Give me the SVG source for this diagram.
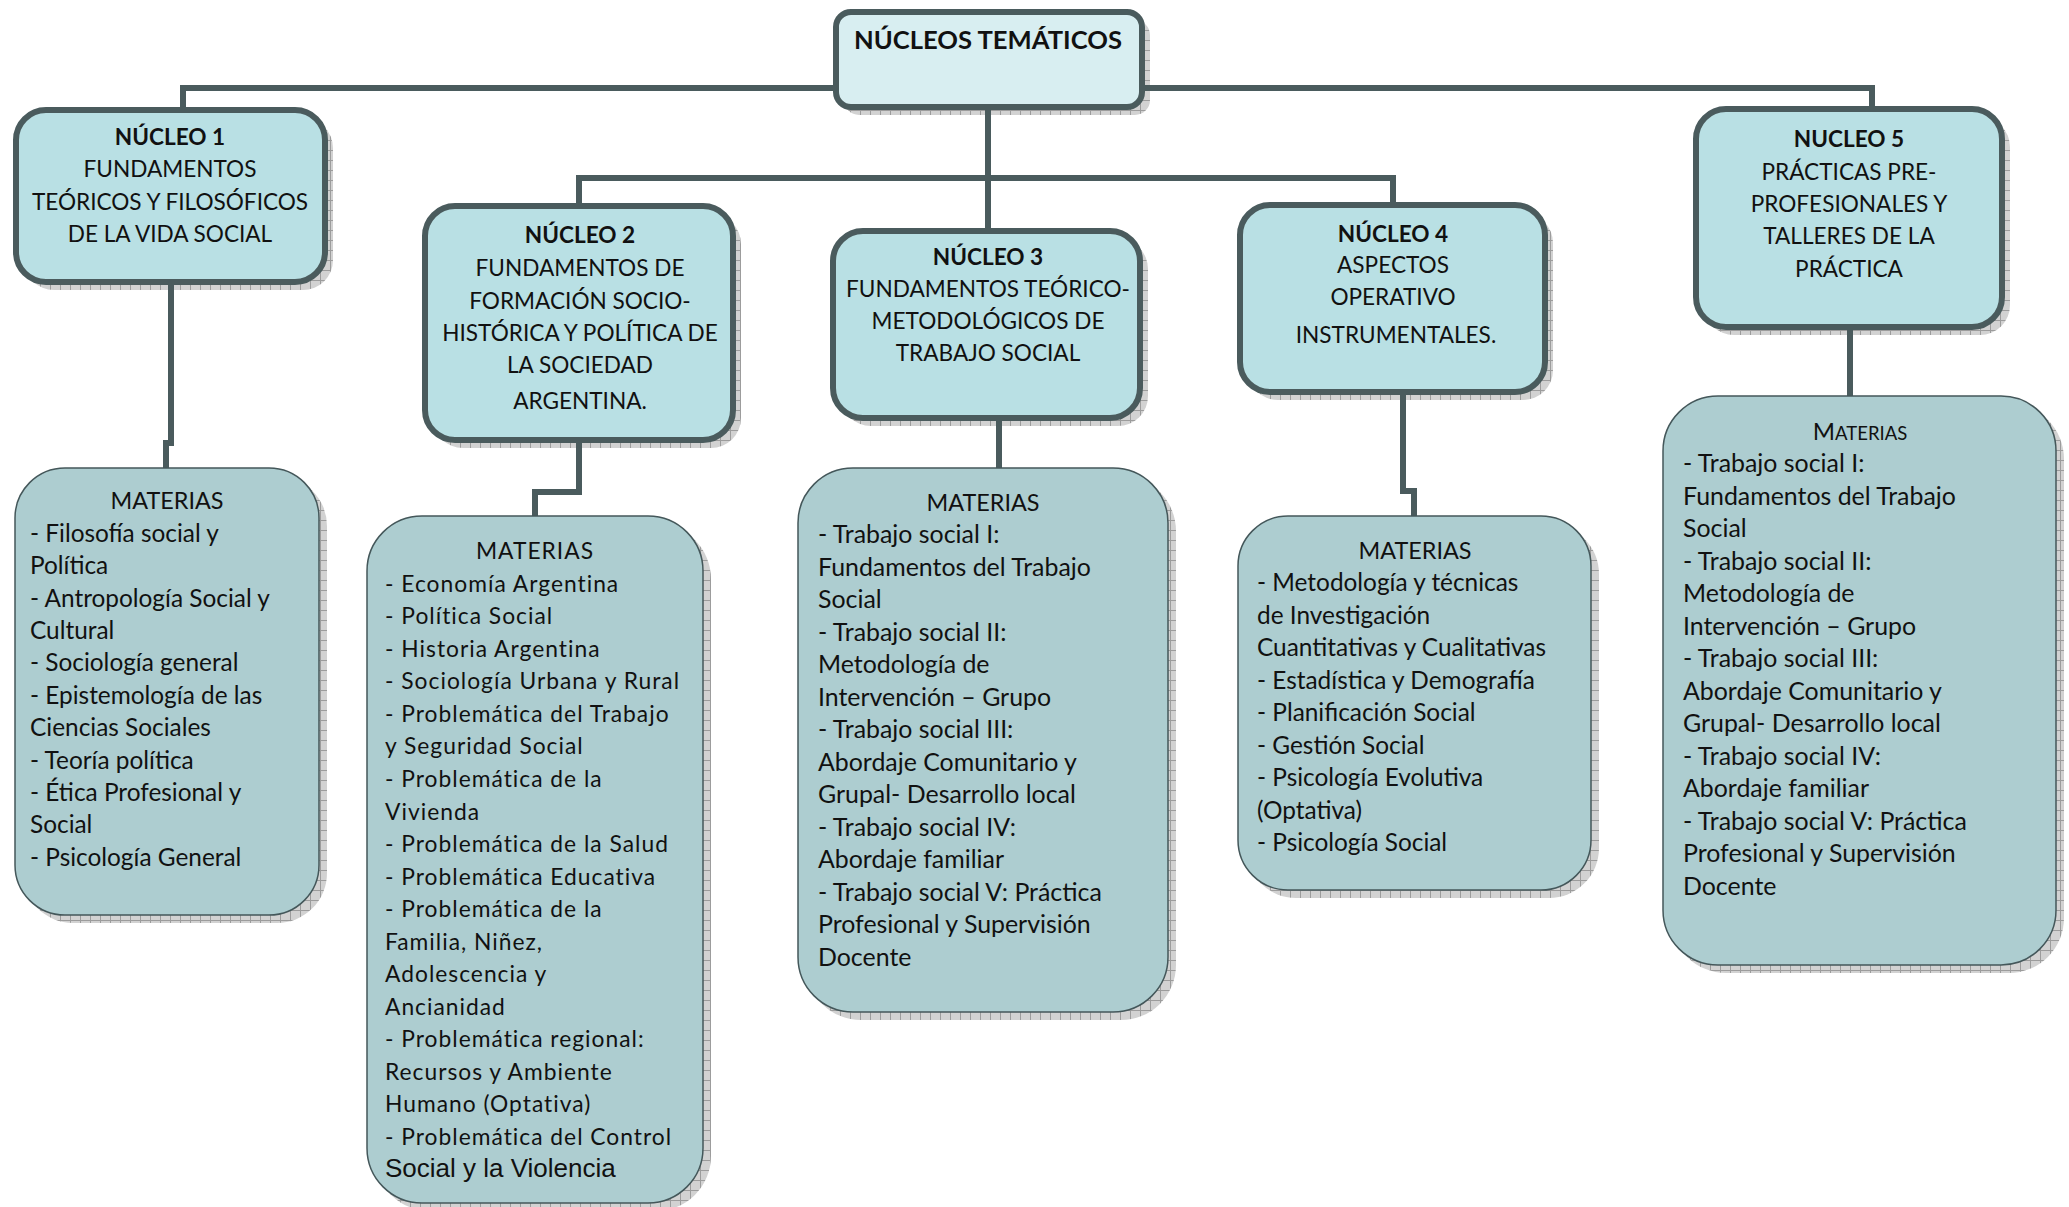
<svg xmlns="http://www.w3.org/2000/svg" width="2069" height="1207" viewBox="0 0 2069 1207">
<defs>
<pattern id="grid" width="10" height="10" patternUnits="userSpaceOnUse">
<rect width="10" height="10" fill="#d2d2d2"/>
<path d="M0 0.5H10M0.5 0V10" stroke="#9c9c9c" stroke-width="1"/>
</pattern>
<style>
.sh{fill:url(#grid)}
.nb{fill:#b9e0e4;stroke:#4a5b5d;stroke-width:6}
.tb{fill:#d8eef1;stroke:#4a5b5d;stroke-width:6}
.mb{fill:#adcdd0;stroke:#44575a;stroke-width:1.5}
.conn{fill:none;stroke:#4a5b5d;stroke-width:6}
.t{font-family:Lato,"Open Sans",sans-serif;font-size:22.6px;fill:#111}
.m{font-size:24.4px}
.m2{font-size:24.9px}
.h{font-size:23.4px}
.c{text-anchor:middle}
.b{font-weight:bold}
.w{letter-spacing:1px;font-size:22.8px}
</style>
</defs>
<rect width="2069" height="1207" fill="#ffffff"/>
<g id="shadows">
<rect class="sh" x="844" y="20" width="306" height="95" rx="15"/>
<rect class="sh" x="24" y="118" width="309" height="172" rx="30"/>
<rect class="sh" x="433" y="214" width="308" height="234" rx="30"/>
<rect class="sh" x="841" y="239" width="307" height="187" rx="30"/>
<rect class="sh" x="1248" y="213" width="305" height="187" rx="30"/>
<rect class="sh" x="1704" y="117" width="306" height="218" rx="30"/>
<rect class="sh" x="23" y="476" width="304" height="447" rx="50"/>
<rect class="sh" x="375" y="524" width="336" height="687" rx="55"/>
<rect class="sh" x="806" y="476" width="370" height="544" rx="55"/>
<rect class="sh" x="1246" y="524" width="353" height="374" rx="50"/>
<rect class="sh" x="1671" y="404" width="393" height="569" rx="55"/>
</g>
<g id="connectors">
<path class="conn" d="M183 110V88H1872V109"/>
<path class="conn" d="M988 110V231"/>
<path class="conn" d="M579 206V178H1393V205"/>
<path class="conn" d="M171 285V443H166V468"/>
<path class="conn" d="M579 443V492H535V516"/>
<path class="conn" d="M999 421V468"/>
<path class="conn" d="M1403 395V491H1414V516"/>
<path class="conn" d="M1850 330V396"/>
</g>
<g id="nucleos-tematicos">
<rect class="tb" x="836" y="12" width="306" height="95" rx="15"/>
<text class="t c b" x="988" y="49" style="font-size:25.6px">NÚCLEOS TEMÁTICOS</text>
</g>
<g id="nucleo-1">
<rect class="nb" x="16" y="110" width="309" height="172" rx="30"/>
<text class="t c" x="170"><tspan class="b" x="170" y="145">NÚCLEO 1</tspan><tspan x="170" y="177">FUNDAMENTOS</tspan><tspan x="170" y="210">TEÓRICOS Y FILOSÓFICOS</tspan><tspan x="170" y="242">DE LA VIDA SOCIAL</tspan></text>
</g>
<g id="nucleo-2">
<rect class="nb" x="425" y="206" width="308" height="234" rx="30"/>
<text class="t c" x="580"><tspan class="b" x="580" y="243">NÚCLEO 2</tspan><tspan x="580" y="276">FUNDAMENTOS DE</tspan><tspan x="580" y="309">FORMACIÓN SOCIO-</tspan><tspan x="580" y="341">HISTÓRICA Y POLÍTICA DE</tspan><tspan x="580" y="373">LA SOCIEDAD</tspan><tspan x="580" y="409">ARGENTINA.</tspan></text>
</g>
<g id="nucleo-3">
<rect class="nb" x="833" y="231" width="307" height="187" rx="30"/>
<text class="t c" x="988"><tspan class="b" x="988" y="265">NÚCLEO 3</tspan><tspan x="988" y="297">FUNDAMENTOS TEÓRICO-</tspan><tspan x="988" y="329">METODOLÓGICOS DE</tspan><tspan x="988" y="361">TRABAJO SOCIAL</tspan></text>
</g>
<g id="nucleo-4">
<rect class="nb" x="1240" y="205" width="305" height="187" rx="30"/>
<text class="t c" x="1393"><tspan class="b" x="1393" y="242">NÚCLEO 4</tspan><tspan x="1393" y="273">ASPECTOS</tspan><tspan x="1393" y="305">OPERATIVO</tspan><tspan x="1396" y="343">INSTRUMENTALES.</tspan></text>
</g>
<g id="nucleo-5">
<rect class="nb" x="1696" y="109" width="306" height="218" rx="30"/>
<text class="t c" x="1849"><tspan class="b" x="1849" y="147">NUCLEO 5</tspan><tspan x="1849" y="180">PRÁCTICAS PRE-</tspan><tspan x="1849" y="212">PROFESIONALES Y</tspan><tspan x="1849" y="244">TALLERES DE LA</tspan><tspan x="1849" y="277">PRÁCTICA</tspan></text>
</g>
<g id="materias-1">
<rect class="mb" x="15" y="468" width="304" height="447" rx="50"/>
<text class="t c h" x="167" y="509">MATERIAS</text>
<text class="t m" x="30"><tspan x="30" y="542">- Filosofía social y</tspan><tspan x="30" y="574">Política</tspan><tspan x="30" y="607">- Antropología Social y</tspan><tspan x="30" y="639">Cultural</tspan><tspan x="30" y="671">- Sociología general</tspan><tspan x="30" y="704">- Epistemología de las</tspan><tspan x="30" y="736">Ciencias Sociales</tspan><tspan x="30" y="769">- Teoría política</tspan><tspan x="30" y="801">- Ética Profesional y</tspan><tspan x="30" y="833">Social</tspan><tspan x="30" y="866">- Psicología General</tspan></text>
</g>
<g id="materias-2">
<rect class="mb" x="367" y="516" width="336" height="687" rx="55"/>
<text class="t c w" x="535" y="559">MATERIAS</text>
<text class="t w" x="385"><tspan x="385" y="592">- Economía Argentina</tspan><tspan x="385" y="624">- Política Social</tspan><tspan x="385" y="657">- Historia Argentina</tspan><tspan x="385" y="689">- Sociología Urbana y Rural</tspan><tspan x="385" y="722">- Problemática del Trabajo</tspan><tspan x="385" y="754">y  Seguridad Social</tspan><tspan x="385" y="787">- Problemática de la</tspan><tspan x="385" y="820">Vivienda</tspan><tspan x="385" y="852">- Problemática de la Salud</tspan><tspan x="385" y="885">- Problemática Educativa</tspan><tspan x="385" y="917">- Problemática de la</tspan><tspan x="385" y="950">Familia, Niñez,</tspan><tspan x="385" y="982">Adolescencia y</tspan><tspan x="385" y="1015">Ancianidad</tspan><tspan x="385" y="1047">- Problemática regional:</tspan><tspan x="385" y="1080">Recursos y Ambiente</tspan><tspan x="385" y="1112">Humano (Optativa)</tspan><tspan x="385" y="1145">- Problemática del Control</tspan></text>
<text x="385" y="1177" style="font-family:'Liberation Sans',Arial,sans-serif;font-size:26px;fill:#111">Social y la Violencia</text>
</g>
<g id="materias-3">
<rect class="mb" x="798" y="468" width="370" height="544" rx="55"/>
<text class="t c h" x="983" y="511">MATERIAS</text>
<text class="t m2" x="818"><tspan x="818" y="543">- Trabajo social I:</tspan><tspan x="818" y="576">Fundamentos del Trabajo</tspan><tspan x="818" y="608">Social</tspan><tspan x="818" y="641">- Trabajo social II:</tspan><tspan x="818" y="673">Metodología de</tspan><tspan x="818" y="706">Intervención – Grupo</tspan><tspan x="818" y="738">- Trabajo social III:</tspan><tspan x="818" y="771">Abordaje Comunitario y</tspan><tspan x="818" y="803">Grupal- Desarrollo local</tspan><tspan x="818" y="836">- Trabajo social IV:</tspan><tspan x="818" y="868">Abordaje familiar</tspan><tspan x="818" y="901">- Trabajo social V: Práctica</tspan><tspan x="818" y="933">Profesional y Supervisión</tspan><tspan x="818" y="966">Docente</tspan></text>
</g>
<g id="materias-4">
<rect class="mb" x="1238" y="516" width="353" height="374" rx="50"/>
<text class="t c h" x="1415" y="559">MATERIAS</text>
<text class="t m" x="1257"><tspan x="1257" y="591">- Metodología y técnicas</tspan><tspan x="1257" y="624">de Investigación</tspan><tspan x="1257" y="656">Cuantitativas y Cualitativas</tspan><tspan x="1257" y="689">- Estadística y Demografía</tspan><tspan x="1257" y="721">- Planificación Social</tspan><tspan x="1257" y="754">- Gestión Social</tspan><tspan x="1257" y="786">- Psicología Evolutiva</tspan><tspan x="1257" y="819">(Optativa)</tspan><tspan x="1257" y="851">- Psicología Social</tspan></text>
</g>
<g id="materias-5">
<rect class="mb" x="1663" y="396" width="393" height="569" rx="55"/>
<text class="t c" x="1860" y="440" style="font-size:24px">M<tspan style="font-size:18.5px">ATERIAS</tspan></text>
<text class="t m2" x="1683"><tspan x="1683" y="472">- Trabajo social I:</tspan><tspan x="1683" y="505">Fundamentos del Trabajo</tspan><tspan x="1683" y="537">Social</tspan><tspan x="1683" y="570">- Trabajo social II:</tspan><tspan x="1683" y="602">Metodología de</tspan><tspan x="1683" y="635">Intervención – Grupo</tspan><tspan x="1683" y="667">- Trabajo social III:</tspan><tspan x="1683" y="700">Abordaje Comunitario y</tspan><tspan x="1683" y="732">Grupal- Desarrollo local</tspan><tspan x="1683" y="765">- Trabajo social IV:</tspan><tspan x="1683" y="797">Abordaje familiar</tspan><tspan x="1683" y="830">- Trabajo social V: Práctica</tspan><tspan x="1683" y="862">Profesional y Supervisión</tspan><tspan x="1683" y="895">Docente</tspan></text>
</g>
</svg>
